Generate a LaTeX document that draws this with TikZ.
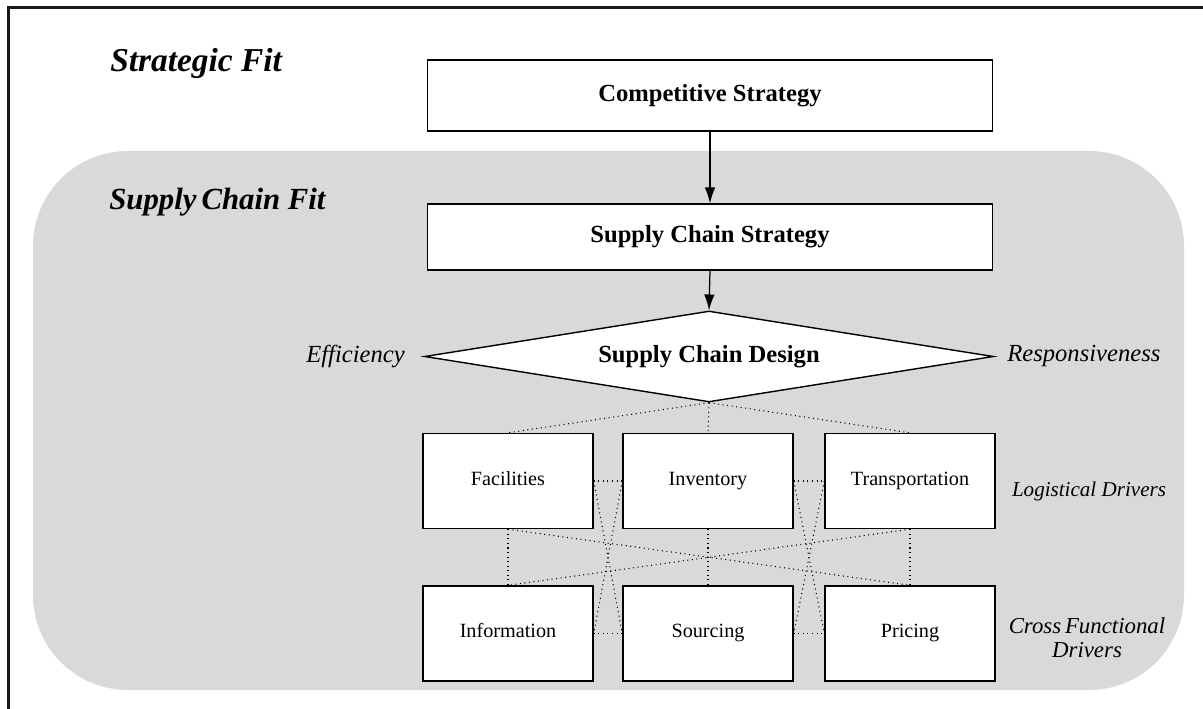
\documentclass[tikz,border=0pt]{standalone}
\usepackage{fontspec}
\setmainfont{Liberation Serif}
\usetikzlibrary{shapes.geometric,arrows.meta}
\definecolor{fitgray}{RGB}{217,217,217}
\tikzset{
  boxstyle/.style={draw=black, fill=white, line width=0.8pt, inner sep=0pt},
  bigbox/.style={boxstyle, minimum width=11.3cm, font=\fontsize{14}{16}\selectfont\bfseries},
  driver/.style={boxstyle, minimum width=3.4cm, minimum height=1.9cm, text height=1.6ex, text depth=0.5ex, font=\fontsize{11.5}{13}\selectfont},
  dotline/.style={black, line width=0.6pt, dotted},
  arr/.style={-{Latex[length=9pt,width=6pt]}, line width=0.7pt},
  fitlabel/.style={font=\fontsize{17.5}{20}\selectfont\bfseries\itshape, inner sep=0pt},
  sidelabel/.style={font=\fontsize{12}{14}\selectfont\itshape, inner sep=0pt},
}
\begin{document}
\begin{tikzpicture}[x=0.02cm,y=-0.02cm]
\useasboundingbox (0,0) rectangle (1203,709);
% gray region
\fill[fitgray, rounded corners=1.9cm] (33,151) rectangle (1184,690);
% outer frame
\draw[line width=1.3pt, black!90] (8.5,709) -- (8.5,7.5) -- (1203,7.5);
% titles
\node[fitlabel, anchor=base west, font=\fontsize{19}{21}\selectfont\bfseries\itshape] (sfit) at (110,72) {Strategic Fit};
\node[fitlabel, anchor=base west] (scfit) at (109,210) {Supply\,Chain Fit};
% main boxes
\node[bigbox, minimum height=1.42cm] (comp) at (710,95.5) {Competitive Strategy};
\node[bigbox, minimum height=1.32cm] (scs) at (710,237) {Supply Chain Strategy};
\node[draw=black, fill=white, line width=0.8pt, diamond, inner sep=0pt, aspect=6, minimum width=11.38cm, minimum height=1.82cm, font=\fontsize{14}{16}\selectfont\bfseries] (scd) at (709,356.5) {Supply Chain Design};
\node[sidelabel, font=\fontsize{14}{16}\selectfont\itshape, anchor=east] (eff) at (405,356) {Efficiency};
\node[sidelabel, font=\fontsize{14}{16}\selectfont\itshape, anchor=west] (resp) at (1007,356) {Responsiveness};
% drivers
\node[driver] (fac) at (508,481) {Facilities};
\node[driver] (inv) at (708,481) {Inventory};
\node[driver] (tra) at (910,481) {Transportation};
\node[driver] (inf) at (508,633.5) {Information};
\node[driver] (sou) at (708,633.5) {Sourcing};
\node[driver] (pri) at (910,633.5) {Pricing};
\node[sidelabel, anchor=base] (logd) at (1089,496) {Logistical Drivers};
\node[sidelabel, align=center, font=\fontsize{13}{13.5}\selectfont\itshape] (cfd) at (1087,638) {Cross\,Functional\\Drivers};
% arrows
\draw[arr] (comp.south) -- (scs.north);
\draw[arr] (scs.south) -- (scd.north);
% dotted links
\draw[dotline] (scd.south) -- (fac.north);
\draw[dotline] (scd.south) -- (inv.north);
\draw[dotline] (scd.south) -- (tra.north);
\draw[dotline] (fac.east) -- (inv.west);
\draw[dotline] (inv.east) -- (tra.west);
\draw[dotline] (inf.east) -- (sou.west);
\draw[dotline] (sou.east) -- (pri.west);
\draw[dotline] (fac.south) -- (inf.north);
\draw[dotline] (inv.south) -- (sou.north);
\draw[dotline] (tra.south) -- (pri.north);
\draw[dotline] (fac.south) -- (pri.north);
\draw[dotline] (tra.south) -- (inf.north);
\draw[dotline] (fac.east) -- (sou.west);
\draw[dotline] (inv.west) -- (inf.east);
\draw[dotline] (inv.east) -- (pri.west);
\draw[dotline] (tra.west) -- (sou.east);
\end{tikzpicture}
\end{document}
